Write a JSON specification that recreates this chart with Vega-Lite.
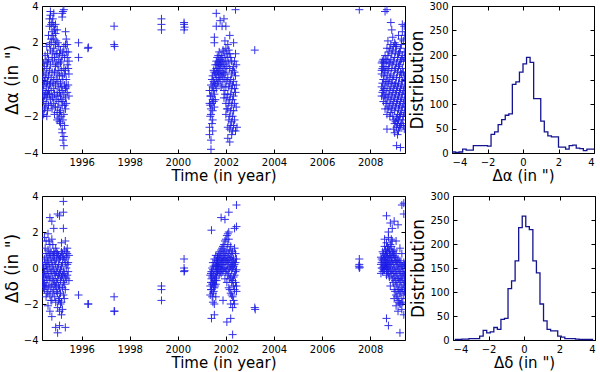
{
"$schema": "https://vega.github.io/schema/vega-lite/v6.json",
"padding": {"left": 2, "top": 0, "right": 2, "bottom": 2},
"config": {
 "view": {"stroke": "black", "strokeWidth": 1},
 "font": "DejaVu Sans",
 "axis": {"domain": false, "grid": false, "tickColor": "black", "tickSize": -4, "labelFontSize": 10, "labelColor": "black", "titleFontSize": 15, "titleFontWeight": "normal", "titleColor": "black", "labelPadding": 8},
 "axisX": {"titlePadding": 1},
 "axisY": {"titlePadding": 2}
},
"datasets": {
"ra": [
{"t":1994.36,"v":-0.5},{"t":1994.36,"v":-1.7},{"t":1994.36,"v":-2.0},
{"t":1994.42,"v":-0.3},{"t":1994.42,"v":0.4},{"t":1994.42,"v":-1.2},{"t":1994.42,"v":-1.9},{"t":1994.42,"v":0.9},
{"t":1994.48,"v":-0.8},{"t":1994.48,"v":0.1},{"t":1994.48,"v":1.3},{"t":1994.48,"v":-1.5},
{"t":1994.55,"v":0.6},{"t":1994.55,"v":-0.4},{"t":1994.55,"v":-1.0},{"t":1994.55,"v":1.8},{"t":1994.55,"v":-2.0},
{"t":1994.62,"v":0.2},{"t":1994.62,"v":-0.6},{"t":1994.62,"v":1.1},{"t":1994.62,"v":-1.4},{"t":1994.62,"v":2.4},
{"t":1994.70,"v":3.7},{"t":1994.70,"v":3.5},{"t":1994.70,"v":0.8},{"t":1994.70,"v":-0.2},{"t":1994.70,"v":-1.1},{"t":1994.70,"v":1.6},
{"t":1994.77,"v":3.1},{"t":1994.77,"v":2.6},{"t":1994.77,"v":0.4},{"t":1994.77,"v":-0.9},{"t":1994.77,"v":-1.6},{"t":1994.77,"v":1.2},
{"t":1994.84,"v":3.6},{"t":1994.84,"v":2.9},{"t":1994.84,"v":2.2},{"t":1994.84,"v":0.0},{"t":1994.84,"v":-0.5},{"t":1994.84,"v":-1.3},{"t":1994.84,"v":1.7},
{"t":1994.91,"v":3.0},{"t":1994.91,"v":2.5},{"t":1994.91,"v":1.9},{"t":1994.91,"v":0.7},{"t":1994.91,"v":-0.3},{"t":1994.91,"v":-1.5},
{"t":1994.98,"v":2.7},{"t":1994.98,"v":1.4},{"t":1994.98,"v":0.3},{"t":1994.98,"v":-0.7},{"t":1994.98,"v":-1.8},{"t":1994.98,"v":-2.2},
{"t":1995.05,"v":1.1},{"t":1995.05,"v":0.5},{"t":1995.05,"v":-0.4},{"t":1995.05,"v":-1.2},{"t":1995.05,"v":-2.1},{"t":1995.05,"v":1.8},
{"t":1995.12,"v":1.6},{"t":1995.12,"v":0.9},{"t":1995.12,"v":-0.2},{"t":1995.12,"v":-0.9},{"t":1995.12,"v":-1.7},{"t":1995.12,"v":-2.4},
{"t":1995.19,"v":1.3},{"t":1995.19,"v":0.2},{"t":1995.19,"v":-0.6},{"t":1995.19,"v":-1.4},{"t":1995.19,"v":-2.7},{"t":1995.19,"v":-2.9},{"t":1995.19,"v":3.6},{"t":1995.19,"v":3.4},
{"t":1995.26,"v":1.8},{"t":1995.26,"v":0.6},{"t":1995.26,"v":-0.8},{"t":1995.26,"v":-1.9},{"t":1995.26,"v":-3.1},{"t":1995.26,"v":-3.6},{"t":1995.26,"v":3.8},
{"t":1995.33,"v":2.6},{"t":1995.33,"v":1.9},{"t":1995.33,"v":0.5},{"t":1995.33,"v":-0.5},{"t":1995.33,"v":-1.0},{"t":1995.33,"v":-1.6},
{"t":1995.40,"v":1.2},{"t":1995.40,"v":0.8},{"t":1995.40,"v":-0.7},{"t":1995.40,"v":1.9},
{"t":1995.47,"v":1.0},{"t":1995.47,"v":0.3},{"t":1995.47,"v":-0.9},
{"t":1994.39,"v":0.1},{"t":1994.39,"v":-1.0},{"t":1994.39,"v":-0.6},
{"t":1994.45,"v":-0.1},{"t":1994.45,"v":0.7},{"t":1994.45,"v":-1.6},{"t":1994.45,"v":-0.9},
{"t":1994.52,"v":0.3},{"t":1994.52,"v":-0.2},{"t":1994.52,"v":-1.3},{"t":1994.52,"v":1.0},{"t":1994.52,"v":-0.7},
{"t":1994.58,"v":0.9},{"t":1994.58,"v":-0.1},{"t":1994.58,"v":-0.8},{"t":1994.58,"v":1.4},{"t":1994.58,"v":-1.7},
{"t":1994.66,"v":0.5},{"t":1994.66,"v":-0.3},{"t":1994.66,"v":-0.8},{"t":1994.66,"v":1.9},{"t":1994.66,"v":2.9},{"t":1994.66,"v":3.3},
{"t":1994.73,"v":0.1},{"t":1994.73,"v":-0.6},{"t":1994.73,"v":-1.4},{"t":1994.73,"v":2.0},{"t":1994.73,"v":3.0},{"t":1994.73,"v":2.2},
{"t":1994.80,"v":1.0},{"t":1994.80,"v":-0.2},{"t":1994.80,"v":-1.0},{"t":1994.80,"v":1.5},{"t":1994.80,"v":2.4},{"t":1994.80,"v":3.3},
{"t":1994.87,"v":0.4},{"t":1994.87,"v":-0.8},{"t":1994.87,"v":1.2},{"t":1994.87,"v":2.7},{"t":1994.87,"v":-1.9},
{"t":1994.94,"v":0.9},{"t":1994.94,"v":0.0},{"t":1994.94,"v":-1.1},{"t":1994.94,"v":2.1},{"t":1994.94,"v":1.4},
{"t":1995.01,"v":0.8},{"t":1995.01,"v":-0.1},{"t":1995.01,"v":-0.9},{"t":1995.01,"v":-1.5},{"t":1995.01,"v":2.0},
{"t":1995.08,"v":1.4},{"t":1995.08,"v":0.2},{"t":1995.08,"v":-0.7},{"t":1995.08,"v":-1.8},{"t":1995.08,"v":-2.3},
{"t":1995.15,"v":1.0},{"t":1995.15,"v":0.5},{"t":1995.15,"v":-0.4},{"t":1995.15,"v":-1.1},{"t":1995.15,"v":-2.0},
{"t":1995.22,"v":1.5},{"t":1995.22,"v":0.0},{"t":1995.22,"v":-1.2},{"t":1995.22,"v":-2.2},{"t":1995.22,"v":-3.3},{"t":1995.22,"v":3.7},
{"t":1995.29,"v":1.2},{"t":1995.29,"v":0.3},{"t":1995.29,"v":-0.3},{"t":1995.29,"v":-1.4},{"t":1995.29,"v":-2.5},
{"t":1995.36,"v":1.5},{"t":1995.36,"v":0.0},{"t":1995.36,"v":-0.4},{"t":1995.36,"v":-1.3},{"t":1995.36,"v":2.2},
{"t":1995.44,"v":0.6},{"t":1995.44,"v":-0.3},{"t":1995.44,"v":1.5},
{"t":1995.87,"v":2.0},{"t":1995.87,"v":1.2},
{"t":1996.26,"v":1.7},{"t":1996.28,"v":1.75},
{"t":1997.35,"v":2.9},{"t":1997.35,"v":1.9},{"t":1997.37,"v":1.8},
{"t":1999.32,"v":3.3},{"t":1999.32,"v":3.0},{"t":1999.32,"v":2.7},
{"t":2000.26,"v":3.1},{"t":2000.26,"v":3.0},{"t":2000.28,"v":2.85},{"t":2000.26,"v":2.7},
{"t":2003.2,"v":1.6},{"t":2007.55,"v":3.8},{"t":2008.7,"v":3.8},
{"t":2001.32,"v":-0.6},{"t":2001.32,"v":-1.3},{"t":2001.32,"v":-2.6},{"t":2001.32,"v":-3.0},
{"t":2001.38,"v":-0.3},{"t":2001.38,"v":-0.9},{"t":2001.38,"v":-1.6},{"t":2001.38,"v":-1.9},{"t":2001.38,"v":-3.3},{"t":2001.38,"v":-3.8},
{"t":2001.45,"v":0.2},{"t":2001.45,"v":-0.4},{"t":2001.45,"v":-1.1},{"t":2001.45,"v":-1.7},{"t":2001.45,"v":-2.2},{"t":2001.45,"v":-2.8},
{"t":2001.52,"v":0.4},{"t":2001.52,"v":-0.2},{"t":2001.52,"v":-0.8},{"t":2001.52,"v":-1.5},{"t":2001.52,"v":2.3},{"t":2001.52,"v":2.0},
{"t":2001.60,"v":0.6},{"t":2001.60,"v":0.1},{"t":2001.60,"v":-0.5},{"t":2001.60,"v":1.0},{"t":2001.60,"v":3.6},{"t":2001.60,"v":2.9},
{"t":2001.68,"v":0.9},{"t":2001.68,"v":0.3},{"t":2001.68,"v":-0.1},{"t":2001.68,"v":1.3},{"t":2001.68,"v":0.6},
{"t":2001.76,"v":1.1},{"t":2001.76,"v":0.5},{"t":2001.76,"v":0.0},{"t":2001.76,"v":0.8},{"t":2001.76,"v":3.2},
{"t":2001.84,"v":1.2},{"t":2001.84,"v":0.7},{"t":2001.84,"v":0.2},{"t":2001.84,"v":-0.3},{"t":2001.84,"v":2.9},
{"t":2001.92,"v":1.5},{"t":2001.92,"v":0.8},{"t":2001.92,"v":0.3},{"t":2001.92,"v":-0.6},{"t":2001.92,"v":-1.0},{"t":2001.92,"v":3.3},
{"t":2002.00,"v":1.7},{"t":2002.00,"v":1.0},{"t":2002.00,"v":0.4},{"t":2002.00,"v":-0.4},{"t":2002.00,"v":-1.3},{"t":2002.00,"v":-1.9},{"t":2002.00,"v":2.9},
{"t":2002.08,"v":1.9},{"t":2002.08,"v":1.2},{"t":2002.08,"v":0.1},{"t":2002.08,"v":-0.8},{"t":2002.08,"v":-1.6},{"t":2002.08,"v":-2.6},{"t":2002.08,"v":-3.2},
{"t":2002.16,"v":1.4},{"t":2002.16,"v":0.6},{"t":2002.16,"v":-0.2},{"t":2002.16,"v":-1.1},{"t":2002.16,"v":-2.0},{"t":2002.16,"v":-2.7},{"t":2002.16,"v":-3.4},{"t":2002.16,"v":2.4},
{"t":2002.24,"v":1.0},{"t":2002.24,"v":0.3},{"t":2002.24,"v":-0.5},{"t":2002.24,"v":-1.4},{"t":2002.24,"v":-2.3},{"t":2002.24,"v":-3.0},
{"t":2002.32,"v":0.7},{"t":2002.32,"v":-0.1},{"t":2002.32,"v":-0.9},{"t":2002.32,"v":-1.7},{"t":2002.32,"v":-2.5},{"t":2002.32,"v":2.0},
{"t":2002.40,"v":1.4},{"t":2002.40,"v":0.2},{"t":2002.40,"v":-0.7},{"t":2002.40,"v":-2.8},{"t":2002.40,"v":3.8},
{"t":2002.46,"v":-2.6},
{"t":2001.35,"v":-0.9},{"t":2001.35,"v":-2.0},{"t":2001.35,"v":-1.4},
{"t":2001.42,"v":-0.6},{"t":2001.42,"v":-1.3},{"t":2001.42,"v":-2.4},{"t":2001.42,"v":0.0},
{"t":2001.49,"v":-0.1},{"t":2001.49,"v":-0.6},{"t":2001.49,"v":-1.2},{"t":2001.49,"v":0.5},
{"t":2001.56,"v":0.3},{"t":2001.56,"v":-0.3},{"t":2001.56,"v":0.8},{"t":2001.56,"v":-1.1},
{"t":2001.64,"v":0.4},{"t":2001.64,"v":-0.2},{"t":2001.64,"v":1.2},{"t":2001.64,"v":0.8},
{"t":2001.72,"v":0.6},{"t":2001.72,"v":1.0},{"t":2001.72,"v":0.1},{"t":2001.72,"v":1.5},
{"t":2001.80,"v":0.9},{"t":2001.80,"v":0.3},{"t":2001.80,"v":1.3},{"t":2001.80,"v":-0.4},
{"t":2001.88,"v":1.0},{"t":2001.88,"v":0.4},{"t":2001.88,"v":1.6},{"t":2001.88,"v":0.0},
{"t":2001.96,"v":1.2},{"t":2001.96,"v":0.6},{"t":2001.96,"v":0.0},{"t":2001.96,"v":-0.8},{"t":2001.96,"v":2.1},
{"t":2002.04,"v":1.4},{"t":2002.04,"v":0.7},{"t":2002.04,"v":-0.1},{"t":2002.04,"v":-1.0},{"t":2002.04,"v":-1.6},
{"t":2002.12,"v":1.6},{"t":2002.12,"v":0.9},{"t":2002.12,"v":-0.4},{"t":2002.12,"v":-1.3},{"t":2002.12,"v":-2.2},
{"t":2002.20,"v":1.2},{"t":2002.20,"v":0.0},{"t":2002.20,"v":-0.8},{"t":2002.20,"v":-1.7},{"t":2002.20,"v":-2.5},
{"t":2002.28,"v":0.5},{"t":2002.28,"v":-0.3},{"t":2002.28,"v":-1.1},{"t":2002.28,"v":-2.0},{"t":2002.28,"v":-2.8},
{"t":2002.36,"v":0.4},{"t":2002.36,"v":-0.5},{"t":2002.36,"v":-1.3},{"t":2002.36,"v":-2.2},{"t":2002.36,"v":1.0},
{"t":2002.43,"v":0.8},{"t":2002.43,"v":-0.3},{"t":2002.43,"v":-1.5},
{"t":2008.48,"v":0.9},{"t":2008.48,"v":0.3},{"t":2008.48,"v":-0.4},{"t":2008.48,"v":-0.9},{"t":2008.48,"v":0.5},
{"t":2008.55,"v":0.7},{"t":2008.55,"v":0.0},{"t":2008.55,"v":-0.6},{"t":2008.55,"v":-1.2},{"t":2008.55,"v":1.1},
{"t":2008.62,"v":1.3},{"t":2008.62,"v":0.4},{"t":2008.62,"v":-0.3},{"t":2008.62,"v":-1.0},{"t":2008.62,"v":-1.6},{"t":2008.62,"v":3.7},
{"t":2008.70,"v":1.0},{"t":2008.70,"v":0.2},{"t":2008.70,"v":-0.5},{"t":2008.70,"v":-1.3},{"t":2008.70,"v":-1.9},{"t":2008.70,"v":1.7},{"t":2008.70,"v":-2.7},
{"t":2008.78,"v":1.5},{"t":2008.78,"v":0.6},{"t":2008.78,"v":-0.2},{"t":2008.78,"v":-0.8},{"t":2008.78,"v":-1.5},{"t":2008.78,"v":0.9},
{"t":2008.86,"v":1.9},{"t":2008.86,"v":1.1},{"t":2008.86,"v":0.3},{"t":2008.86,"v":-0.4},{"t":2008.86,"v":-1.1},{"t":2008.86,"v":-1.8},{"t":2008.86,"v":3.1},
{"t":2008.94,"v":1.6},{"t":2008.94,"v":0.8},{"t":2008.94,"v":0.0},{"t":2008.94,"v":-0.7},{"t":2008.94,"v":-1.4},{"t":2008.94,"v":-2.0},{"t":2008.94,"v":2.3},
{"t":2009.02,"v":2.0},{"t":2009.02,"v":1.2},{"t":2009.02,"v":0.5},{"t":2009.02,"v":-0.3},{"t":2009.02,"v":-1.0},{"t":2009.02,"v":-1.7},{"t":2009.02,"v":-2.4},{"t":2009.02,"v":-2.9},
{"t":2009.10,"v":1.8},{"t":2009.10,"v":0.9},{"t":2009.10,"v":0.1},{"t":2009.10,"v":-0.6},{"t":2009.10,"v":-1.3},{"t":2009.10,"v":-2.1},{"t":2009.10,"v":-2.6},{"t":2009.10,"v":-3.6},
{"t":2009.18,"v":1.4},{"t":2009.18,"v":0.7},{"t":2009.18,"v":-0.2},{"t":2009.18,"v":-0.9},{"t":2009.18,"v":-1.6},{"t":2009.18,"v":-2.2},{"t":2009.18,"v":-2.8},{"t":2009.18,"v":2.4},
{"t":2009.26,"v":1.7},{"t":2009.26,"v":1.0},{"t":2009.26,"v":0.4},{"t":2009.26,"v":-0.5},{"t":2009.26,"v":-1.2},{"t":2009.26,"v":-1.9},{"t":2009.26,"v":-2.5},{"t":2009.26,"v":-3.7},
{"t":2009.34,"v":2.6},{"t":2009.34,"v":1.3},{"t":2009.34,"v":0.6},{"t":2009.34,"v":-0.1},{"t":2009.34,"v":-0.8},{"t":2009.34,"v":-1.5},{"t":2009.34,"v":-2.2},{"t":2009.34,"v":3.0},
{"t":2009.42,"v":2.9},{"t":2009.42,"v":1.5},{"t":2009.42,"v":0.2},{"t":2009.42,"v":-0.4},{"t":2009.42,"v":-1.1},{"t":2009.42,"v":-1.8},{"t":2009.42,"v":-2.7},
{"t":2008.51,"v":0.6},{"t":2008.51,"v":-0.2},{"t":2008.51,"v":-0.7},{"t":2008.51,"v":1.0},
{"t":2008.58,"v":0.9},{"t":2008.58,"v":0.2},{"t":2008.58,"v":-0.5},{"t":2008.58,"v":-0.9},{"t":2008.58,"v":0.5},
{"t":2008.66,"v":1.1},{"t":2008.66,"v":0.7},{"t":2008.66,"v":-0.1},{"t":2008.66,"v":-0.8},{"t":2008.66,"v":-1.3},
{"t":2008.74,"v":1.3},{"t":2008.74,"v":0.5},{"t":2008.74,"v":-0.1},{"t":2008.74,"v":-1.0},{"t":2008.74,"v":-1.6},{"t":2008.74,"v":2.1},
{"t":2008.82,"v":1.7},{"t":2008.82,"v":0.9},{"t":2008.82,"v":0.1},{"t":2008.82,"v":-0.6},{"t":2008.82,"v":-1.3},{"t":2008.82,"v":-2.0},
{"t":2008.90,"v":1.4},{"t":2008.90,"v":0.6},{"t":2008.90,"v":-0.2},{"t":2008.90,"v":-0.9},{"t":2008.90,"v":-1.6},{"t":2008.90,"v":2.7},
{"t":2008.98,"v":1.8},{"t":2008.98,"v":1.0},{"t":2008.98,"v":0.2},{"t":2008.98,"v":-0.5},{"t":2008.98,"v":-1.2},{"t":2008.98,"v":-2.2},{"t":2008.98,"v":-2.7},
{"t":2009.06,"v":1.5},{"t":2009.06,"v":0.6},{"t":2009.06,"v":-0.2},{"t":2009.06,"v":-0.8},{"t":2009.06,"v":-1.5},{"t":2009.06,"v":-2.3},{"t":2009.06,"v":1.9},
{"t":2009.14,"v":1.2},{"t":2009.14,"v":0.4},{"t":2009.14,"v":-0.4},{"t":2009.14,"v":-1.1},{"t":2009.14,"v":-1.9},{"t":2009.14,"v":-2.4},{"t":2009.14,"v":-3.0},
{"t":2009.22,"v":1.5},{"t":2009.22,"v":0.8},{"t":2009.22,"v":0.1},{"t":2009.22,"v":-0.7},{"t":2009.22,"v":-1.4},{"t":2009.22,"v":-2.0},{"t":2009.22,"v":-2.6},
{"t":2009.30,"v":1.9},{"t":2009.30,"v":1.1},{"t":2009.30,"v":0.3},{"t":2009.30,"v":-0.3},{"t":2009.30,"v":-1.0},{"t":2009.30,"v":-1.7},{"t":2009.30,"v":-2.4},{"t":2009.30,"v":2.2},
{"t":2009.38,"v":2.1},{"t":2009.38,"v":1.0},{"t":2009.38,"v":0.4},{"t":2009.38,"v":-0.6},{"t":2009.38,"v":-1.3},{"t":2009.38,"v":-2.0},{"t":2009.38,"v":-2.5},
{"t":2009.44,"v":1.2},{"t":2009.44,"v":0.0},{"t":2009.44,"v":-0.8},{"t":2009.44,"v":-1.5},{"t":2009.44,"v":2.4}
],
"dec": [
{"t":1994.38,"v":-0.5},{"t":1994.38,"v":-0.9},{"t":1994.38,"v":0.2},
{"t":1994.45,"v":-0.2},{"t":1994.45,"v":-0.8},{"t":1994.45,"v":0.5},{"t":1994.45,"v":-1.2},{"t":1994.45,"v":1.7},
{"t":1994.52,"v":0.1},{"t":1994.52,"v":-0.5},{"t":1994.52,"v":0.8},{"t":1994.52,"v":-1.0},{"t":1994.52,"v":1.5},{"t":1994.52,"v":-1.6},
{"t":1994.60,"v":0.4},{"t":1994.60,"v":-0.3},{"t":1994.60,"v":1.0},{"t":1994.60,"v":-1.3},{"t":1994.60,"v":1.9},{"t":1994.60,"v":-2.1},
{"t":1994.68,"v":0.7},{"t":1994.68,"v":0.0},{"t":1994.68,"v":-0.6},{"t":1994.68,"v":-1.5},{"t":1994.68,"v":2.8},{"t":1994.68,"v":1.3},{"t":1994.68,"v":-2.4},
{"t":1994.76,"v":0.3},{"t":1994.76,"v":-0.2},{"t":1994.76,"v":-0.9},{"t":1994.76,"v":2.6},{"t":1994.76,"v":1.6},{"t":1994.76,"v":-1.8},{"t":1994.76,"v":-2.7},
{"t":1994.84,"v":0.6},{"t":1994.84,"v":-0.1},{"t":1994.84,"v":-0.7},{"t":1994.84,"v":-1.2},{"t":1994.84,"v":2.2},{"t":1994.84,"v":0.9},
{"t":1994.92,"v":0.2},{"t":1994.92,"v":-0.4},{"t":1994.92,"v":-1.0},{"t":1994.92,"v":1.1},{"t":1994.92,"v":-1.9},{"t":1994.92,"v":-3.3},
{"t":1995.00,"v":0.8},{"t":1995.00,"v":0.0},{"t":1995.00,"v":-0.6},{"t":1995.00,"v":-1.4},{"t":1995.00,"v":-2.2},{"t":1995.00,"v":3.0},{"t":1995.00,"v":-3.6},
{"t":1995.08,"v":0.5},{"t":1995.08,"v":-0.3},{"t":1995.08,"v":-1.1},{"t":1995.08,"v":-1.7},{"t":1995.08,"v":-2.4},{"t":1995.08,"v":2.9},{"t":1995.08,"v":-3.2},
{"t":1995.16,"v":0.9},{"t":1995.16,"v":0.1},{"t":1995.16,"v":-0.5},{"t":1995.16,"v":-1.9},{"t":1995.16,"v":-2.6},{"t":1995.16,"v":1.4},
{"t":1995.24,"v":0.6},{"t":1995.24,"v":-0.2},{"t":1995.24,"v":-0.8},{"t":1995.24,"v":-1.5},{"t":1995.24,"v":3.7},{"t":1995.24,"v":3.1},{"t":1995.24,"v":2.2},
{"t":1995.32,"v":0.3},{"t":1995.32,"v":-0.5},{"t":1995.32,"v":1.5},{"t":1995.32,"v":-1.2},{"t":1995.32,"v":-3.3},
{"t":1995.40,"v":0.8},{"t":1995.40,"v":0.2},{"t":1995.40,"v":-0.4},{"t":1995.40,"v":1.1},
{"t":1995.47,"v":0.7},{"t":1995.47,"v":-0.7},
{"t":1994.41,"v":-0.3},{"t":1994.41,"v":0.0},{"t":1994.41,"v":-0.7},{"t":1994.41,"v":-1.1},
{"t":1994.48,"v":0.3},{"t":1994.48,"v":-0.4},{"t":1994.48,"v":-1.0},{"t":1994.48,"v":1.1},
{"t":1994.56,"v":0.6},{"t":1994.56,"v":-0.1},{"t":1994.56,"v":-0.7},{"t":1994.56,"v":-1.4},{"t":1994.56,"v":0.2},
{"t":1994.64,"v":0.2},{"t":1994.64,"v":-0.5},{"t":1994.64,"v":0.8},{"t":1994.64,"v":-1.0},{"t":1994.64,"v":1.5},
{"t":1994.72,"v":0.5},{"t":1994.72,"v":-0.3},{"t":1994.72,"v":-1.1},{"t":1994.72,"v":0.9},{"t":1994.72,"v":-1.8},
{"t":1994.80,"v":0.1},{"t":1994.80,"v":-0.6},{"t":1994.80,"v":-1.4},{"t":1994.80,"v":0.7},{"t":1994.80,"v":1.3},
{"t":1994.88,"v":0.4},{"t":1994.88,"v":-0.3},{"t":1994.88,"v":-0.9},{"t":1994.88,"v":0.8},{"t":1994.88,"v":-1.6},
{"t":1994.96,"v":0.5},{"t":1994.96,"v":-0.2},{"t":1994.96,"v":-0.8},{"t":1994.96,"v":-1.3},{"t":1994.96,"v":0.9},
{"t":1995.04,"v":0.2},{"t":1995.04,"v":-0.4},{"t":1995.04,"v":-1.0},{"t":1995.04,"v":-1.8},{"t":1995.04,"v":0.7},
{"t":1995.12,"v":0.6},{"t":1995.12,"v":-0.1},{"t":1995.12,"v":-0.7},{"t":1995.12,"v":-1.4},{"t":1995.12,"v":-2.0},
{"t":1995.20,"v":0.3},{"t":1995.20,"v":-0.4},{"t":1995.20,"v":-1.1},{"t":1995.20,"v":-2.3},{"t":1995.20,"v":0.8},
{"t":1995.28,"v":0.5},{"t":1995.28,"v":-0.3},{"t":1995.28,"v":-0.9},{"t":1995.28,"v":1.0},{"t":1995.28,"v":-1.7},
{"t":1995.36,"v":0.6},{"t":1995.36,"v":0.0},{"t":1995.36,"v":-0.6},{"t":1995.36,"v":0.9},
{"t":1995.44,"v":0.3},{"t":1995.44,"v":-0.2},
{"t":1995.87,"v":-1.5},
{"t":1996.26,"v":-2.0},{"t":1996.28,"v":-2.0},
{"t":1997.35,"v":-1.6},{"t":1997.35,"v":-2.4},{"t":1997.37,"v":-2.4},
{"t":1999.32,"v":-1.0},{"t":1999.32,"v":-1.2},{"t":1999.32,"v":-1.8},
{"t":2000.26,"v":0.5},{"t":2000.26,"v":0.0},{"t":2000.28,"v":-0.15},{"t":2000.26,"v":-0.2},
{"t":2003.2,"v":-2.2},{"t":2003.22,"v":-2.3},
{"t":2007.55,"v":0.5},{"t":2007.55,"v":0.2},{"t":2007.55,"v":0.0},{"t":2007.57,"v":0.05},{"t":2007.53,"v":0.1},
{"t":2001.35,"v":-0.4},{"t":2001.35,"v":-1.0},{"t":2001.35,"v":-1.5},
{"t":2001.40,"v":-0.6},{"t":2001.40,"v":-1.2},{"t":2001.40,"v":-0.2},{"t":2001.40,"v":2.1},{"t":2001.40,"v":-2.8},
{"t":2001.46,"v":-0.8},{"t":2001.46,"v":-1.4},{"t":2001.46,"v":0.3},{"t":2001.46,"v":-0.1},{"t":2001.46,"v":-1.9},
{"t":2001.52,"v":-0.7},{"t":2001.52,"v":-1.1},{"t":2001.52,"v":0.5},{"t":2001.52,"v":-2.0},{"t":2001.52,"v":-2.6},
{"t":2001.58,"v":-0.5},{"t":2001.58,"v":-0.9},{"t":2001.58,"v":0.1},{"t":2001.58,"v":0.7},{"t":2001.58,"v":-1.6},
{"t":2001.65,"v":-0.2},{"t":2001.65,"v":0.2},{"t":2001.65,"v":0.6},
{"t":2001.72,"v":0.0},{"t":2001.72,"v":0.4},{"t":2001.72,"v":0.8},{"t":2001.72,"v":-0.4},
{"t":2001.80,"v":0.2},{"t":2001.80,"v":0.6},{"t":2001.80,"v":1.0},{"t":2001.80,"v":-0.3},{"t":2001.80,"v":2.8},
{"t":2001.88,"v":0.3},{"t":2001.88,"v":0.7},{"t":2001.88,"v":1.2},{"t":2001.88,"v":-0.2},{"t":2001.88,"v":-1.8},
{"t":2001.96,"v":0.5},{"t":2001.96,"v":0.9},{"t":2001.96,"v":1.5},{"t":2001.96,"v":0.0},{"t":2001.96,"v":-0.6},{"t":2001.96,"v":2.7},
{"t":2002.04,"v":0.4},{"t":2002.04,"v":1.0},{"t":2002.04,"v":1.8},{"t":2002.04,"v":-0.1},{"t":2002.04,"v":-0.8},{"t":2002.04,"v":-3.0},
{"t":2002.12,"v":0.3},{"t":2002.12,"v":0.8},{"t":2002.12,"v":1.6},{"t":2002.12,"v":-0.3},{"t":2002.12,"v":-1.1},{"t":2002.12,"v":3.1},{"t":2002.12,"v":2.0},
{"t":2002.20,"v":0.1},{"t":2002.20,"v":0.6},{"t":2002.20,"v":1.2},{"t":2002.20,"v":-0.5},{"t":2002.20,"v":-1.4},{"t":2002.20,"v":-2.0},{"t":2002.20,"v":-2.8},
{"t":2002.28,"v":0.0},{"t":2002.28,"v":0.4},{"t":2002.28,"v":0.9},{"t":2002.28,"v":-0.7},{"t":2002.28,"v":-1.6},{"t":2002.28,"v":-2.2},{"t":2002.28,"v":-3.7},
{"t":2002.36,"v":0.2},{"t":2002.36,"v":-0.4},{"t":2002.36,"v":-1.2},{"t":2002.36,"v":1.1},{"t":2002.36,"v":2.2},{"t":2002.36,"v":-2.0},
{"t":2002.44,"v":0.5},{"t":2002.44,"v":-0.1},{"t":2002.44,"v":-1.0},{"t":2002.44,"v":2.3},{"t":2002.44,"v":3.5},{"t":2002.44,"v":-1.3},
{"t":2001.38,"v":-0.8},{"t":2001.38,"v":-1.2},{"t":2001.38,"v":-0.3},
{"t":2001.43,"v":-0.9},{"t":2001.43,"v":-0.5},{"t":2001.43,"v":-1.6},{"t":2001.43,"v":0.0},
{"t":2001.49,"v":-0.9},{"t":2001.49,"v":-0.4},{"t":2001.49,"v":-1.3},{"t":2001.49,"v":0.1},
{"t":2001.55,"v":-0.6},{"t":2001.55,"v":-0.2},{"t":2001.55,"v":-1.0},{"t":2001.55,"v":0.3},
{"t":2001.61,"v":-0.3},{"t":2001.61,"v":0.1},{"t":2001.61,"v":0.4},{"t":2001.61,"v":-0.7},
{"t":2001.68,"v":-0.1},{"t":2001.68,"v":0.3},{"t":2001.68,"v":0.7},{"t":2001.68,"v":0.1},
{"t":2001.76,"v":0.1},{"t":2001.76,"v":0.5},{"t":2001.76,"v":0.9},{"t":2001.76,"v":-0.2},
{"t":2001.84,"v":0.2},{"t":2001.84,"v":0.5},{"t":2001.84,"v":1.1},{"t":2001.84,"v":-0.1},
{"t":2001.92,"v":0.4},{"t":2001.92,"v":0.8},{"t":2001.92,"v":1.3},{"t":2001.92,"v":0.0},
{"t":2002.00,"v":0.3},{"t":2002.00,"v":0.7},{"t":2002.00,"v":1.6},{"t":2002.00,"v":-0.2},
{"t":2002.08,"v":0.2},{"t":2002.08,"v":0.6},{"t":2002.08,"v":1.3},{"t":2002.08,"v":-0.4},{"t":2002.08,"v":1.9},
{"t":2002.16,"v":0.0},{"t":2002.16,"v":0.5},{"t":2002.16,"v":1.0},{"t":2002.16,"v":-0.6},{"t":2002.16,"v":-1.2},
{"t":2002.24,"v":-0.1},{"t":2002.24,"v":0.3},{"t":2002.24,"v":0.8},{"t":2002.24,"v":-0.8},{"t":2002.24,"v":-1.5},
{"t":2002.32,"v":0.1},{"t":2002.32,"v":0.5},{"t":2002.32,"v":-0.5},{"t":2002.32,"v":-1.0},{"t":2002.32,"v":-1.8},
{"t":2002.40,"v":0.3},{"t":2002.40,"v":-0.2},{"t":2002.40,"v":-0.8},{"t":2002.40,"v":0.8},
{"t":2008.45,"v":0.2},{"t":2008.45,"v":-0.3},{"t":2008.45,"v":0.6},
{"t":2008.52,"v":0.4},{"t":2008.52,"v":0.0},{"t":2008.52,"v":0.9},{"t":2008.52,"v":-0.2},
{"t":2008.60,"v":0.6},{"t":2008.60,"v":0.2},{"t":2008.60,"v":1.2},{"t":2008.60,"v":-0.1},{"t":2008.60,"v":1.6},
{"t":2008.68,"v":0.8},{"t":2008.68,"v":0.3},{"t":2008.68,"v":1.4},{"t":2008.68,"v":0.0},{"t":2008.68,"v":-0.4},{"t":2008.68,"v":2.9},{"t":2008.68,"v":-2.8},
{"t":2008.76,"v":0.5},{"t":2008.76,"v":0.1},{"t":2008.76,"v":1.1},{"t":2008.76,"v":1.7},{"t":2008.76,"v":-0.3},{"t":2008.76,"v":-3.2},{"t":2008.76,"v":2.0},
{"t":2008.84,"v":0.7},{"t":2008.84,"v":0.2},{"t":2008.84,"v":1.3},{"t":2008.84,"v":-0.2},{"t":2008.84,"v":-1.0},{"t":2008.84,"v":2.5},
{"t":2008.92,"v":0.9},{"t":2008.92,"v":0.4},{"t":2008.92,"v":1.5},{"t":2008.92,"v":-0.1},{"t":2008.92,"v":-0.6},{"t":2008.92,"v":2.2},
{"t":2009.00,"v":0.6},{"t":2009.00,"v":0.0},{"t":2009.00,"v":1.0},{"t":2009.00,"v":-0.5},{"t":2009.00,"v":-1.2},{"t":2009.00,"v":-1.7},{"t":2009.00,"v":2.6},
{"t":2009.08,"v":0.3},{"t":2009.08,"v":-0.3},{"t":2009.08,"v":0.8},{"t":2009.08,"v":-0.9},{"t":2009.08,"v":-1.5},{"t":2009.08,"v":-2.1},{"t":2009.08,"v":1.5},
{"t":2009.16,"v":0.0},{"t":2009.16,"v":-0.6},{"t":2009.16,"v":0.5},{"t":2009.16,"v":-1.2},{"t":2009.16,"v":-1.8},{"t":2009.16,"v":-2.4},{"t":2009.16,"v":2.4},
{"t":2009.24,"v":-0.2},{"t":2009.24,"v":-0.8},{"t":2009.24,"v":0.4},{"t":2009.24,"v":-1.4},{"t":2009.24,"v":-2.0},{"t":2009.24,"v":-3.6},{"t":2009.24,"v":1.1},
{"t":2009.32,"v":0.1},{"t":2009.32,"v":-0.5},{"t":2009.32,"v":-1.1},{"t":2009.32,"v":-1.7},{"t":2009.32,"v":-2.3},{"t":2009.32,"v":3.5},{"t":2009.32,"v":0.8},
{"t":2009.40,"v":-0.3},{"t":2009.40,"v":0.3},{"t":2009.40,"v":-0.9},{"t":2009.40,"v":-1.5},{"t":2009.40,"v":-2.6},{"t":2009.40,"v":3.0},{"t":2009.40,"v":3.6},
{"t":2009.45,"v":0.0},{"t":2009.45,"v":-1.0},
{"t":2008.48,"v":0.3},{"t":2008.48,"v":0.0},{"t":2008.48,"v":0.5},
{"t":2008.56,"v":0.5},{"t":2008.56,"v":0.1},{"t":2008.56,"v":0.8},{"t":2008.56,"v":-0.1},
{"t":2008.64,"v":0.7},{"t":2008.64,"v":0.3},{"t":2008.64,"v":1.0},{"t":2008.64,"v":0.1},
{"t":2008.72,"v":0.6},{"t":2008.72,"v":0.2},{"t":2008.72,"v":1.2},{"t":2008.72,"v":-0.2},{"t":2008.72,"v":0.9},
{"t":2008.80,"v":0.8},{"t":2008.80,"v":0.4},{"t":2008.80,"v":1.0},{"t":2008.80,"v":0.0},{"t":2008.80,"v":-0.5},
{"t":2008.88,"v":0.6},{"t":2008.88,"v":0.3},{"t":2008.88,"v":1.2},{"t":2008.88,"v":-0.3},{"t":2008.88,"v":1.6},
{"t":2008.96,"v":0.7},{"t":2008.96,"v":0.2},{"t":2008.96,"v":0.9},{"t":2008.96,"v":-0.3},{"t":2008.96,"v":-0.8},
{"t":2009.04,"v":0.4},{"t":2009.04,"v":-0.2},{"t":2009.04,"v":0.6},{"t":2009.04,"v":-0.7},{"t":2009.04,"v":-1.3},
{"t":2009.12,"v":0.1},{"t":2009.12,"v":-0.4},{"t":2009.12,"v":0.4},{"t":2009.12,"v":-1.0},{"t":2009.12,"v":-1.6},
{"t":2009.20,"v":-0.1},{"t":2009.20,"v":-0.6},{"t":2009.20,"v":0.3},{"t":2009.20,"v":-1.2},{"t":2009.20,"v":-1.9},
{"t":2009.28,"v":-0.3},{"t":2009.28,"v":-0.7},{"t":2009.28,"v":0.2},{"t":2009.28,"v":-1.3},{"t":2009.28,"v":-2.0},
{"t":2009.36,"v":-0.2},{"t":2009.36,"v":-0.6},{"t":2009.36,"v":0.1},{"t":2009.36,"v":-1.2},{"t":2009.36,"v":-1.9},
{"t":2009.43,"v":-0.4},{"t":2009.43,"v":-0.8},{"t":2009.43,"v":0.2},{"t":2009.43,"v":-1.3}
],
"hra": [
{"e":-4.0,"c":2},{"e":-3.8,"c":1},{"e":-3.6,"c":2},{"e":-3.4,"c":8},{"e":-3.2,"c":6},{"e":-3.0,"c":6},
{"e":-2.8,"c":15},{"e":-2.6,"c":15},{"e":-2.4,"c":15},{"e":-2.2,"c":15},{"e":-2.0,"c":14},{"e":-1.8,"c":38},
{"e":-1.6,"c":43},{"e":-1.4,"c":58},{"e":-1.2,"c":68},{"e":-1.0,"c":77},{"e":-0.8,"c":80},{"e":-0.6,"c":140},
{"e":-0.4,"c":145},{"e":-0.2,"c":165},{"e":0.0,"c":182},{"e":0.2,"c":195},{"e":0.4,"c":185},{"e":0.6,"c":111},
{"e":0.8,"c":111},{"e":1.0,"c":65},{"e":1.2,"c":43},{"e":1.4,"c":35},{"e":1.6,"c":33},{"e":1.8,"c":33},
{"e":2.0,"c":12},{"e":2.2,"c":12},{"e":2.4,"c":8},{"e":2.6,"c":15},{"e":2.8,"c":16},{"e":3.0,"c":10},
{"e":3.2,"c":9},{"e":3.4,"c":5},{"e":3.6,"c":8},{"e":3.8,"c":8},{"e":4.0,"c":8}
],
"hdec": [
{"e":-3.9,"c":1},{"e":-3.7,"c":1},{"e":-3.5,"c":2},{"e":-3.3,"c":2},{"e":-3.1,"c":3},{"e":-2.9,"c":3},
{"e":-2.7,"c":3},{"e":-2.5,"c":8},{"e":-2.3,"c":20},{"e":-2.1,"c":15},{"e":-1.9,"c":17},{"e":-1.7,"c":26},
{"e":-1.5,"c":22},{"e":-1.3,"c":43},{"e":-1.1,"c":45},{"e":-0.9,"c":107},{"e":-0.7,"c":123},{"e":-0.5,"c":165},
{"e":-0.3,"c":234},{"e":-0.1,"c":258},{"e":0.1,"c":236},{"e":0.3,"c":230},{"e":0.5,"c":165},{"e":0.7,"c":140},
{"e":0.9,"c":75},{"e":1.1,"c":40},{"e":1.3,"c":22},{"e":1.5,"c":19},{"e":1.7,"c":19},{"e":1.9,"c":8},
{"e":2.1,"c":6},{"e":2.3,"c":3},{"e":2.5,"c":3},{"e":2.7,"c":3},{"e":2.9,"c":2},{"e":3.1,"c":1},
{"e":3.3,"c":1},{"e":3.5,"c":1},{"e":3.7,"c":1},{"e":3.9,"c":1}
]
},
"spacing": 6,
"vconcat": [
{"spacing": 0, "hconcat": [
 {"width": 363, "height": 147, "data": {"name": "ra"},
  "layer": [
   {"mark": {"type": "point", "shape": "M-1,0H1M0,-1V1", "filled": false, "size": 64, "strokeWidth": 1, "color": "#1c1ce6", "opacity": 0.9, "clip": true},
    "encoding": {
     "x": {"field": "t", "type": "quantitative", "scale": {"domain": [1994.35, 2009.45], "nice": false, "zero": false}, "axis": {"values": [1996,1998,2000,2002,2004,2006,2008], "format": "d", "title": "Time (in year)"}},
     "y": {"field": "v", "type": "quantitative", "scale": {"domain": [-4, 4], "nice": false}, "axis": {"values": [-4,-2,0,2,4], "title": "Δα (in \")", "titleFontSize": 17}}
    }},
   {"mark": {"type": "point", "opacity": 0},
    "encoding": {
     "x": {"field": "t", "type": "quantitative", "axis": {"orient": "top", "labels": false, "title": null, "values": [1996,1998,2000,2002,2004,2006,2008], "minExtent": 0, "maxExtent": 0, "labelPadding": 0}},
     "y": {"field": "v", "type": "quantitative", "axis": {"orient": "right", "labels": false, "title": null, "values": [-4,-2,0,2,4], "minExtent": 0, "maxExtent": 0, "labelPadding": 0}}
    }}
  ],
  "resolve": {"axis": {"x": "independent", "y": "independent"}}},
 {"width": 142, "height": 147, "data": {"name": "hra"},
  "layer": [
   {"mark": {"type": "line", "interpolate": "step-after", "color": "#141490", "strokeWidth": 1.3},
    "encoding": {
     "x": {"field": "e", "type": "quantitative", "scale": {"domain": [-4, 4], "nice": false}, "axis": {"values": [-4,-2,0,2,4], "title": "Δα (in \")"}},
     "y": {"field": "c", "type": "quantitative", "scale": {"domain": [0, 300], "nice": false}, "axis": {"values": [0,50,100,150,200,250,300], "title": "Distribution", "titleFontSize": 17}}
    }},
   {"mark": {"type": "point", "opacity": 0},
    "encoding": {
     "x": {"field": "e", "type": "quantitative", "axis": {"orient": "top", "labels": false, "title": null, "values": [-4,-2,0,2,4], "minExtent": 0, "maxExtent": 0, "labelPadding": 0}},
     "y": {"field": "c", "type": "quantitative", "axis": {"orient": "right", "labels": false, "title": null, "values": [0,50,100,150,200,250,300], "minExtent": 0, "maxExtent": 0, "labelPadding": 0}}
    }}
  ],
  "resolve": {"axis": {"x": "independent", "y": "independent"}}}
]},
{"spacing": 0, "hconcat": [
 {"width": 363, "height": 144, "data": {"name": "dec"},
  "layer": [
   {"mark": {"type": "point", "shape": "M-1,0H1M0,-1V1", "filled": false, "size": 64, "strokeWidth": 1, "color": "#1c1ce6", "opacity": 0.9, "clip": true},
    "encoding": {
     "x": {"field": "t", "type": "quantitative", "scale": {"domain": [1994.35, 2009.45], "nice": false, "zero": false}, "axis": {"values": [1996,1998,2000,2002,2004,2006,2008], "format": "d", "title": "Time (in year)"}},
     "y": {"field": "v", "type": "quantitative", "scale": {"domain": [-4, 4], "nice": false}, "axis": {"values": [-4,-2,0,2,4], "title": "Δδ (in \")", "titleFontSize": 17}}
    }},
   {"mark": {"type": "point", "opacity": 0},
    "encoding": {
     "x": {"field": "t", "type": "quantitative", "axis": {"orient": "top", "labels": false, "title": null, "values": [1996,1998,2000,2002,2004,2006,2008], "minExtent": 0, "maxExtent": 0, "labelPadding": 0}},
     "y": {"field": "v", "type": "quantitative", "axis": {"orient": "right", "labels": false, "title": null, "values": [-4,-2,0,2,4], "minExtent": 0, "maxExtent": 0, "labelPadding": 0}}
    }}
  ],
  "resolve": {"axis": {"x": "independent", "y": "independent"}}},
 {"width": 142, "height": 144, "data": {"name": "hdec"},
  "layer": [
   {"mark": {"type": "line", "interpolate": "step-after", "color": "#141490", "strokeWidth": 1.3},
    "encoding": {
     "x": {"field": "e", "type": "quantitative", "scale": {"domain": [-4, 4], "nice": false}, "axis": {"values": [-4,-2,0,2,4], "title": "Δδ (in \")"}},
     "y": {"field": "c", "type": "quantitative", "scale": {"domain": [0, 300], "nice": false}, "axis": {"values": [0,50,100,150,200,250,300], "title": "Distribution", "titleFontSize": 17}}
    }},
   {"mark": {"type": "point", "opacity": 0},
    "encoding": {
     "x": {"field": "e", "type": "quantitative", "axis": {"orient": "top", "labels": false, "title": null, "values": [-4,-2,0,2,4], "minExtent": 0, "maxExtent": 0, "labelPadding": 0}},
     "y": {"field": "c", "type": "quantitative", "axis": {"orient": "right", "labels": false, "title": null, "values": [0,50,100,150,200,250,300], "minExtent": 0, "maxExtent": 0, "labelPadding": 0}}
    }}
  ],
  "resolve": {"axis": {"x": "independent", "y": "independent"}}}
]}
]
}
